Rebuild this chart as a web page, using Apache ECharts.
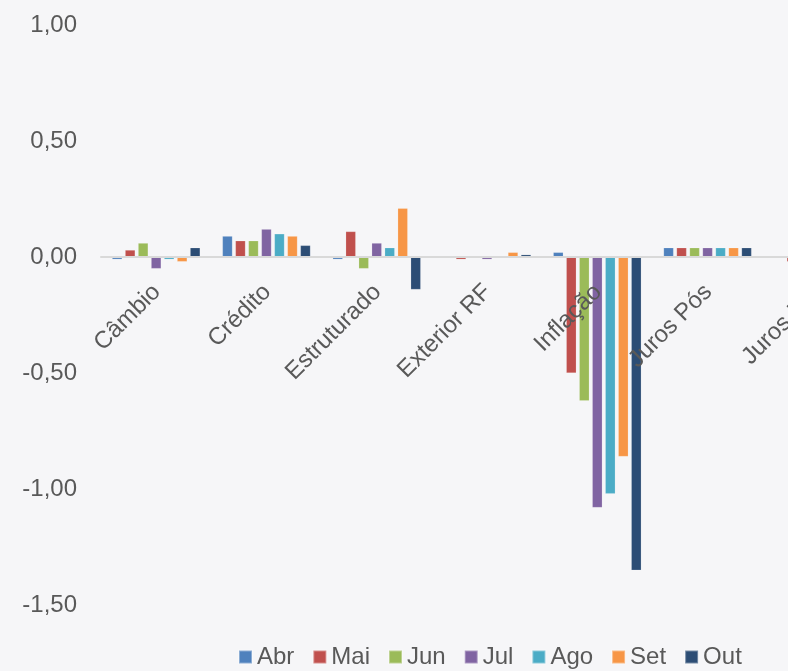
<!DOCTYPE html>
<html>
<head>
<meta charset="utf-8">
<script src="https://cdn.jsdelivr.net/npm/echarts@6/dist/echarts.min.js"></script>
<style>
html, body { margin: 0; padding: 0; width: 788px; height: 671px; overflow: hidden; background: #f6f6f8; }
#chart { width: 900px; height: 671px; }
</style>
</head>
<body>
<div id="chart"></div>
<script>
var categories = ['Câmbio', 'Crédito', 'Estruturado', 'Exterior RF', 'Inflação', 'Juros Pós', 'Juros Pré'];
var seriesNames = ['Abr', 'Mai', 'Jun', 'Jul', 'Ago', 'Set', 'Out'];
var colors = ['#4F81BD', '#C0504D', '#9BBB59', '#8064A2', '#4BACC6', '#F79646', '#2C4D75'];
var abr = [-0.01, 0.09, -0.01, 0.00, 0.02, 0.04, 0.00];
var mai = [0.03, 0.07, 0.11, -0.01, -0.50, 0.04, -0.02];
var jun = [0.06, 0.07, -0.05, 0.00, -0.62, 0.04, -0.02];
var jul = [-0.05, 0.12, 0.06, -0.01, -1.08, 0.04, -0.02];
var ago = [-0.01, 0.10, 0.04, 0.00, -1.02, 0.04, -0.02];
var set = [-0.02, 0.09, 0.21, 0.02, -0.86, 0.04, -0.02];
var out = [0.04, 0.05, -0.14, 0.01, -1.35, 0.04, -0.02];
var allValues = [abr, mai, jun, jul, ago, set, out];
var yMin = -1.5, yMax = 1.0, yInterval = 0.5;

var gridTop = 25, gridHeight = 580;
var zeroOffset = -gridHeight * (0 - yMin) / (yMax - yMin);

var chart = echarts.init(document.getElementById('chart'));
var txt = '#595959';
var font = '"Liberation Sans", Arial, sans-serif';
chart.setOption({
  backgroundColor: '#f6f6f8',
  animation: false,
  textStyle: { fontFamily: font },
  grid: { left: 101, top: gridTop, width: 772, height: gridHeight, containLabel: false, outerBoundsMode: 'none' },
  legend: {
    data: seriesNames,
    left: 238,
    top: 645,
    padding: 0,
    itemWidth: 13,
    itemHeight: 13,
    itemGap: 18,
    icon: 'rect',
    textStyle: { fontSize: 24, color: txt, fontFamily: font }
  },
  xAxis: {
    type: 'category',
    data: categories,
    position: 'bottom',
    offset: zeroOffset,
    z: 10,
    axisTick: { show: false },
    axisLine: { show: true, onZero: false, lineStyle: { color: '#d9d9d9', width: 2 } },
    axisLabel: { rotate: 45, interval: 0, fontSize: 24, color: txt, fontFamily: font, margin: 15, verticalAlign: 'top', padding: [0, 11, 0, 0] },
    splitLine: { show: false }
  },
  yAxis: {
    type: 'value',
    min: yMin,
    max: yMax,
    interval: yInterval,
    axisLine: { show: false },
    axisTick: { show: false },
    splitLine: { show: false },
    axisLabel: {
      fontSize: 24, color: txt, fontFamily: font, margin: 24, padding: [4, 0, 0, 0],
      formatter: function (v) { return v.toFixed(2).replace('.', ','); }
    }
  },
  series: seriesNames.map(function (n, i) {
    return {
      name: n,
      type: 'bar',
      data: allValues[i],
      barWidth: 10,
      barGap: '30%',
      itemStyle: { color: colors[i], borderColor: 'rgba(255,255,255,0.35)', borderWidth: 0.5 }
    };
  })
});
</script>
</body>
</html>
